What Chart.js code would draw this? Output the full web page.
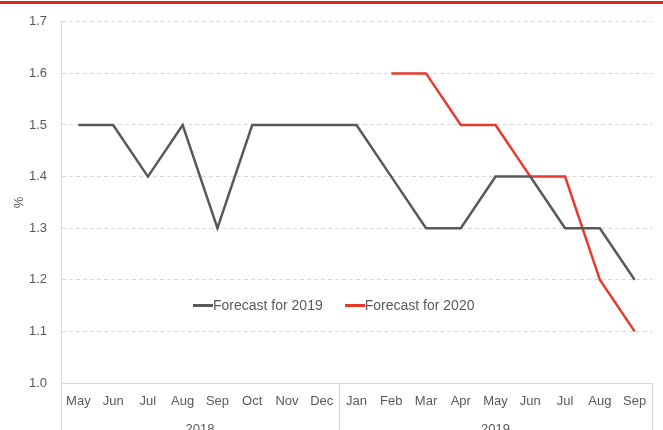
<!DOCTYPE html>
<html>
<head>
<meta charset="utf-8">
<script src="https://cdn.jsdelivr.net/npm/chart.js@4.4.1/dist/chart.umd.min.js"></script>
<style>
  html, body { margin: 0; padding: 0; background: #fff; overflow: hidden; }
  #wrap { position: relative; width: 663px; height: 445px; }
  #topbar { position: absolute; left: 0; top: 1px; width: 663px; height: 3px; background: #e2231a; z-index: 2; }
  #legend { position: absolute; left: 193px; top: 297px; font: 14px "Liberation Sans", Arial, sans-serif; color: #595959; z-index: 2; white-space: nowrap; }
  #legend .item { display: inline-block; margin-right: 22px; }
  #legend .swatch { display: inline-block; width: 20px; height: 3px; vertical-align: middle; position: relative; top: -1px; }
</style>
</head>
<body>
<div id="wrap">
  <div id="topbar"></div>
  <canvas id="myChart" width="663" height="445"></canvas>
  <div id="legend"></div>
</div>
<script>
// months May 2018 .. Sep 2019
const months = ['May', 'Jun', 'Jul', 'Aug', 'Sep', 'Oct', 'Nov', 'Dec',
                'Jan', 'Feb', 'Mar', 'Apr', 'May', 'Jun', 'Jul', 'Aug', 'Sep'];
const yearLabels = ['2018', '2019'];
const yearStart = [0, 8];          // first month index of each year
const forecast2019 = [1.5, 1.5, 1.4, 1.5, 1.3, 1.5, 1.5, 1.5,
                      1.5, 1.4, 1.3, 1.3, 1.4, 1.4, 1.3, 1.3, 1.2];
const forecast2020 = [null, null, null, null, null, null, null, null,
                      null, 1.6, 1.6, 1.5, 1.5, 1.4, 1.4, 1.2, 1.1];

const font = { family: '"Liberation Sans", Arial, sans-serif', size: 13 };
const textColor = '#595959';
const lineColor = '#d9d9d9';

// year group centres / edges in category units
const yearEdges = yearStart.map(s => s - 0.5).concat([months.length - 0.5]);
const yearCentres = yearStart.map((s, i) => (yearEdges[i] + yearEdges[i + 1]) / 2);

// vertical separators below the plot between year groups
const groupLines = {
    id: 'groupLines',
    afterDraw(chart) {
        const x = chart.scales.x;
        const ctx = chart.ctx;
        ctx.save();
        ctx.strokeStyle = lineColor;
        ctx.lineWidth = 1;
        yearEdges.forEach(v => {
            const px = Math.round(x.getPixelForValue(v)) + 0.5;
            ctx.beginPath();
            ctx.moveTo(px, chart.chartArea.bottom);
            ctx.lineTo(px, chart.height);
            ctx.stroke();
        });
        ctx.restore();
    }
};

var ctx = document.getElementById('myChart').getContext('2d');
var chart = new Chart(ctx, {
    type: 'line',
    data: {
        labels: months,
        datasets: [{
            label: 'Forecast for 2019',
            data: forecast2019,
            borderColor: '#595959',
            backgroundColor: '#595959',
            borderWidth: 2.5,
            pointRadius: 0,
            tension: 0
        }, {
            label: 'Forecast for 2020',
            data: forecast2020,
            borderColor: '#e9392c',
            backgroundColor: '#e9392c',
            borderWidth: 2.5,
            pointRadius: 0,
            tension: 0
        }]
    },
    options: {
        responsive: false,
        animation: false,
        layout: { padding: { top: 18, right: 11, left: 0, bottom: 0 } },
        plugins: {
            legend: { display: false },
            tooltip: { enabled: false }
        },
        scales: {
            x: {
                type: 'category',
                offset: true,
                grid: { display: false, drawTicks: false },
                border: { color: lineColor },
                ticks: { font: font, color: textColor, padding: 11, maxRotation: 0, autoSkip: false },
                afterFit: (s) => { s.height = 29; }
            },
            years: {
                type: 'linear',
                position: 'bottom',
                min: -0.5,
                max: months.length - 0.5,
                grid: { display: false, drawTicks: false },
                border: { display: false },
                afterBuildTicks: (s) => { s.ticks = yearCentres.map(v => ({ value: v })); },
                ticks: {
                    font: font, color: textColor, padding: 10, maxRotation: 0, autoSkip: false,
                    callback: (v) => yearLabels[yearCentres.indexOf(v)]
                },
                afterFit: (s) => { s.height = 33; }
            },
            y: {
                min: 1.0,
                max: 1.7,
                ticks: {
                    stepSize: 0.1, font: font, color: textColor, padding: 14,
                    callback: (v) => v.toFixed(1)
                },
                grid: { color: lineColor, drawTicks: false },
                border: { color: lineColor, dash: [4, 3] },
                title: { display: true, text: '%', font: font, color: textColor, padding: { top: 12, bottom: 0 } },
                afterFit: (s) => { s.width = 61; }
            }
        }
    },
    plugins: [groupLines]
});

// legend line built from the datasets
const legend = document.getElementById('legend');
chart.data.datasets.forEach(ds => {
    const item = document.createElement('span');
    item.className = 'item';
    const sw = document.createElement('span');
    sw.className = 'swatch';
    sw.style.backgroundColor = ds.borderColor;
    item.appendChild(sw);
    item.appendChild(document.createTextNode(ds.label));
    legend.appendChild(item);
});
</script>
</body>
</html>
